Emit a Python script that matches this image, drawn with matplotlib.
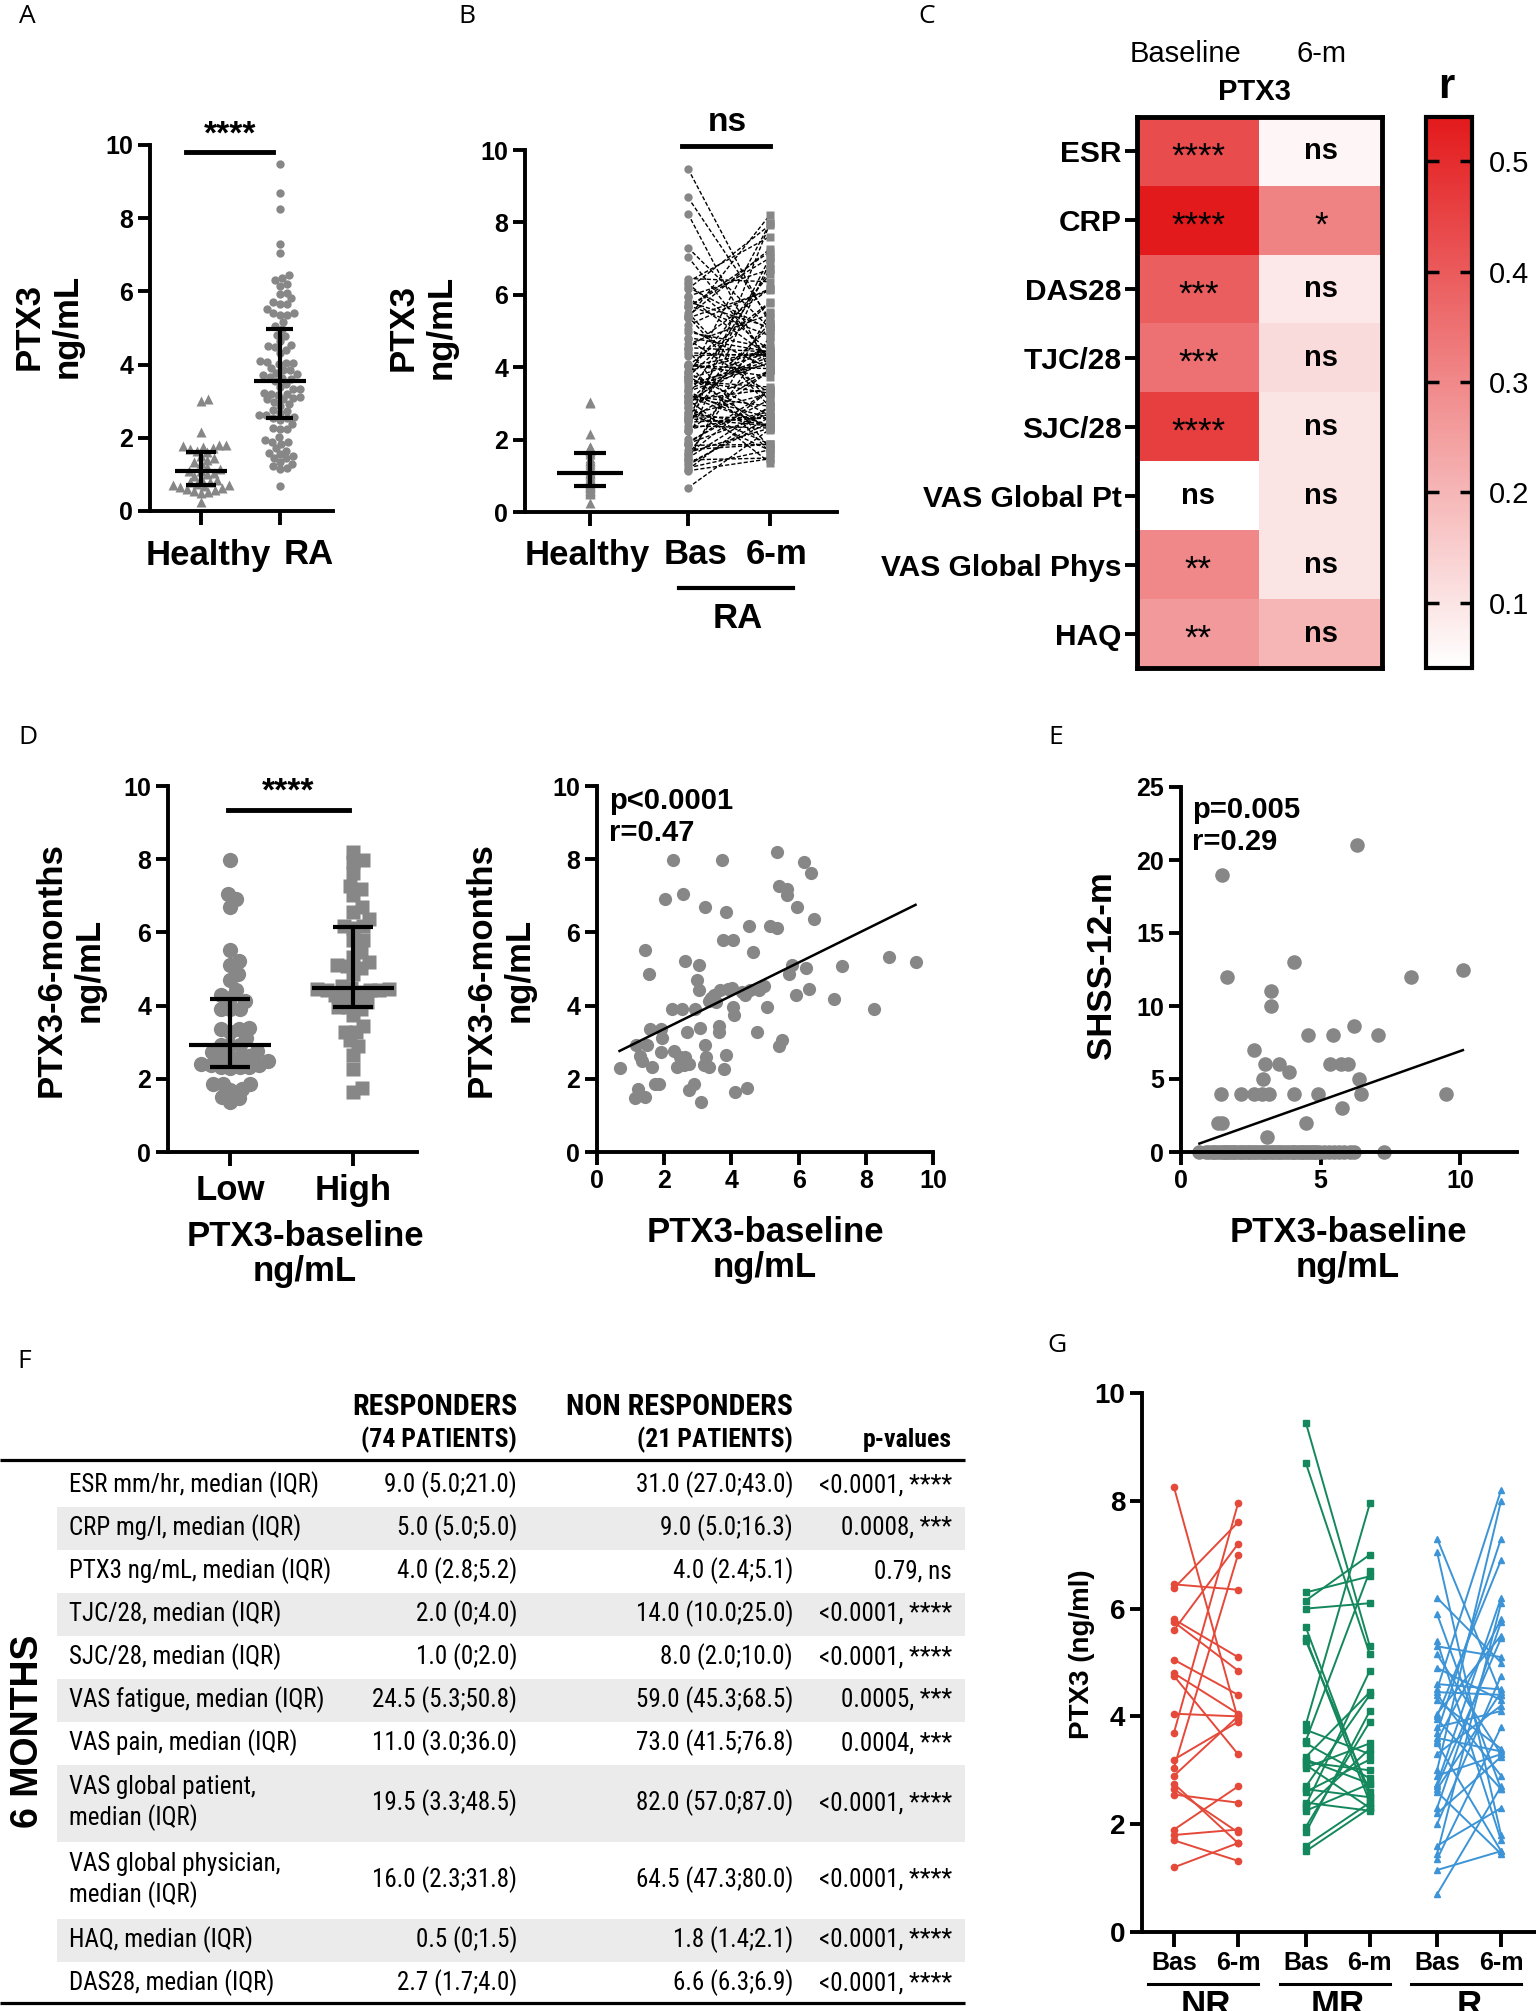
import numpy as np
import matplotlib
matplotlib.use("Agg")
import matplotlib.pyplot as plt
from matplotlib import font_manager
from matplotlib.font_manager import FontProperties
from matplotlib.colors import LinearSegmentedColormap

plt.rcParams["font.family"] = ["Liberation Sans", "DejaVu Sans"]
plt.rcParams["font.weight"] = "bold"
plt.rcParams["axes.labelweight"] = "bold"

# ---------------- data ----------------
# healthy controls (A, B)
healthy = [3.05, 3.0, 2.15, 1.8, 1.8, 1.78, 1.75, 1.72, 1.7, 1.65, 1.6, 1.5,
           1.45, 1.4, 1.35, 1.3, 1.2, 1.15, 1.1, 1.08, 1.05, 1.0, 0.95, 0.9,
           0.85, 0.8, 0.78, 0.75, 0.72, 0.7, 0.68, 0.65, 0.62, 0.6, 0.58,
           0.55, 0.52, 0.5, 0.25]

# RA patients, PTX3 at baseline and 6 months, paired (A, B, D)
ptx3_bas = [0.67, 1.14, 1.22, 1.44, 1.17, 1.29, 1.49, 1.44, 1.56, 1.59,
            1.64, 1.72, 1.84, 1.89, 1.94, 1.89, 2.02, 2.25, 2.23, 2.28,
            2.38, 2.53, 2.55, 2.63, 2.63, 2.68, 2.73, 2.75, 2.88, 2.91,
            2.98, 3.05, 3.05, 3.08, 3.11, 3.18, 3.21, 3.21, 3.23, 3.33,
            3.33, 3.48, 3.55, 3.62, 3.67, 3.64, 3.72, 3.74, 3.77, 3.85,
            3.85, 4.02, 4.04, 4.04, 4.07, 4.10, 4.32, 4.47, 4.52, 4.54,
            4.64, 4.77, 4.82, 4.97, 5.06, 5.16, 5.36, 5.36, 5.41, 5.51,
            5.41, 5.66, 5.66, 5.71, 5.81, 5.93, 5.96, 6.16, 6.21, 6.31,
            6.36, 6.45, 7.05, 7.30, 8.24, 8.69, 9.48, 1.34, 2.48, 2.58,
            3.40, 3.90, 4.40]
ptx3_6m = [2.29, 1.47, 1.72, 1.49, 2.92, 2.63, 2.92, 5.53, 4.85, 3.37,
           2.32, 1.87, 1.87, 3.37, 3.11, 2.72, 6.91, 7.98, 3.91, 2.77,
           2.32, 3.91, 7.04, 5.23, 2.60, 3.28, 2.40, 1.70, 1.87, 3.91,
           4.70, 5.10, 4.42, 3.40, 1.36, 2.38, 6.70, 2.92, 2.60, 2.32,
           4.13, 4.28, 4.10, 3.45, 4.42, 3.28, 7.98, 5.78, 2.26, 2.66,
           6.57, 4.47, 5.80, 3.96, 3.74, 1.64, 4.36, 1.76, 6.17, 4.42,
           5.46, 3.28, 4.42, 4.53, 3.96, 6.17, 6.12, 8.21, 2.89, 3.06,
           7.27, 7.19, 7.02, 4.87, 5.10, 4.28, 6.70, 7.93, 5.04, 4.44,
           7.61, 6.36, 4.17, 5.07, 3.91, 5.32, 5.19, 2.49, 2.60, 2.38,
           4.20, 4.45, 4.30]

# E: PTX3 baseline vs SHSS at 12 months
shss_x = [1.46, 1.65, 6.31, 4.06, 8.24, 10.1, 3.23, 3.23, 6.19, 4.56,
          5.44, 7.05, 2.60, 3.01, 3.52, 5.35, 5.73, 6.00, 3.88, 2.94,
          6.37, 1.43, 2.15, 2.63, 2.89, 3.17, 4.04, 4.92, 6.45, 9.50,
          5.77, 4.48, 1.31, 1.46, 3.08,
          0.66, 1.13, 1.30, 1.55, 1.75, 1.91, 2.10, 2.27, 2.45, 2.63,
          2.80, 2.99, 3.15, 3.35, 3.50, 3.70, 3.90, 4.06, 4.25, 4.42,
          4.60, 4.78, 4.95, 5.14, 5.30, 5.50, 5.65, 5.85, 6.05, 6.21, 7.29,
          0.90, 1.00, 1.20, 1.40, 1.50, 1.60, 1.70, 1.85, 2.00, 2.20,
          2.35, 2.50, 2.70, 2.90, 3.05, 3.25, 3.45, 3.60, 3.80, 4.00,
          4.15, 4.35, 4.50, 4.70, 4.85]
shss_y = [19, 12, 21, 13, 12, 12.5, 11, 10, 8.6, 8,
          8, 8, 7, 6, 6, 6, 6, 6, 5.5, 5,
          5, 4, 4, 4, 4, 4, 4, 4, 4, 4,
          3, 2, 2, 2, 1,
          0, 0, 0, 0, 0, 0, 0, 0, 0, 0,
          0, 0, 0, 0, 0, 0, 0, 0, 0, 0,
          0, 0, 0, 0, 0, 0, 0, 0, 0, 0, 0,
          0, 0, 0, 0, 0, 0, 0, 0, 0, 0,
          0, 0, 0, 0, 0, 0, 0, 0, 0, 0,
          0, 0, 0, 0, 0]

# C: correlation heatmap
heat_rows = ["ESR", "CRP", "DAS28", "TJC/28", "SJC/28", "VAS Global Pt",
             "VAS Global Phys", "HAQ"]
r_base = [0.43, 0.54, 0.39, 0.35, 0.46, 0.04, 0.30, 0.26]
r_6m = [0.06, 0.31, 0.09, 0.12, 0.10, 0.10, 0.10, 0.20]
sig_base = ["****", "****", "***", "***", "****", "ns", "**", "**"]
sig_6m = ["ns", "*", "ns", "ns", "ns", "ns", "ns", "ns"]

# F: table
f_rows = ["ESR mm/hr, median (IQR)", "CRP mg/l, median (IQR)",
          "PTX3 ng/mL, median (IQR)", "TJC/28, median (IQR)",
          "SJC/28, median (IQR)", "VAS fatigue, median (IQR)",
          "VAS pain, median (IQR)", "VAS global patient,\nmedian (IQR)",
          "VAS global physician,\nmedian (IQR)", "HAQ, median (IQR)",
          "DAS28, median (IQR)"]
f_resp = ["9.0 (5.0;21.0)", "5.0 (5.0;5.0)", "4.0 (2.8;5.2)", "2.0 (0;4.0)",
          "1.0 (0;2.0)", "24.5 (5.3;50.8)", "11.0 (3.0;36.0)",
          "19.5 (3.3;48.5)", "16.0 (2.3;31.8)", "0.5 (0;1.5)", "2.7 (1.7;4.0)"]
f_nonresp = ["31.0 (27.0;43.0)", "9.0 (5.0;16.3)", "4.0 (2.4;5.1)",
             "14.0 (10.0;25.0)", "8.0 (2.0;10.0)", "59.0 (45.3;68.5)",
             "73.0 (41.5;76.8)", "82.0 (57.0;87.0)", "64.5 (47.3;80.0)",
             "1.8 (1.4;2.1)", "6.6 (6.3;6.9)"]
f_pvals = ["<0.0001, ****", "0.0008, ***", "0.79, ns", "<0.0001, ****",
           "<0.0001, ****", "0.0005, ***", "0.0004, ***", "<0.0001, ****",
           "<0.0001, ****", "<0.0001, ****", "<0.0001, ****"]

# G: paired PTX3 by response group
nr_bas = [8.25, 6.45, 6.38, 5.8, 5.75, 5.6, 5.05, 4.8, 4.75, 4.05, 3.7, 3.2,
          3.05, 2.9, 2.75, 2.65, 2.55, 1.9, 1.8, 1.7, 1.2]
nr_6m = [3.95, 6.35, 7.6, 5.1, 4.85, 7.2, 4.4, 4.05, 3.3, 4.0, 7.95, 3.9,
         7.0, 4.0, 1.65, 1.85, 2.4, 2.7, 1.9, 1.32, 1.65]
mr_bas = [9.45, 8.7, 6.3, 6.15, 6.0, 5.65, 5.45, 5.4, 3.85, 3.75, 3.55, 3.5,
          3.25, 3.2, 3.15, 3.1, 3.05, 2.7, 2.65, 2.6, 2.4, 2.35, 2.3, 2.25,
          1.95, 1.85, 1.6, 1.5]
mr_6m = [5.3, 5.15, 6.6, 7.0, 6.1, 2.5, 2.4, 2.6, 7.95, 3.3, 6.7, 2.85,
         4.45, 2.75, 3.0, 2.3, 3.5, 4.4, 2.5, 3.2, 2.25, 4.85, 3.4, 2.75,
         3.9, 4.1, 2.4, 2.3]
r_bas_g = [7.3, 7.05, 6.2, 5.9, 5.4, 5.3, 5.15, 4.9, 4.6, 4.5, 4.45, 4.4,
           4.3, 4.05, 4.0, 3.95, 3.8, 3.7, 3.6, 3.55, 3.5, 3.3, 3.0, 2.9,
           2.75, 2.7, 2.65, 2.6, 2.3, 2.2, 2.0, 1.6, 1.45, 1.35, 1.15, 0.7]
r_6m_g = [4.4, 1.8, 5.0, 2.65, 1.7, 5.1, 3.3, 4.3, 4.5, 8.2, 4.4, 2.9,
          3.4, 5.5, 6.9, 2.65, 4.1, 7.3, 3.35, 5.8, 1.5, 4.2, 8.0, 3.3,
          6.2, 5.45, 4.45, 1.45, 5.75, 3.25, 4.75, 2.3, 6.1, 3.8, 1.5, 2.7]
g_groups = ["NR", "MR", "R"]

GREY = "#878787"
W, H = 1536, 2011
fig = plt.figure(figsize=(W / 100, H / 100), dpi=100)


def ax_px(l, t, r, b):
    return fig.add_axes([l / W, 1 - b / H, (r - l) / W, (b - t) / H])


def style(ax, size=18):
    for s in ["top", "right"]:
        ax.spines[s].set_visible(False)
    for s in ["left", "bottom"]:
        ax.spines[s].set_linewidth(2.8)
    ax.tick_params(width=2.8, length=9, labelsize=size, pad=3)


def swarm(vals, d, ppu_y):
    # simple beeswarm: x offsets (pixels) so markers of size d do not overlap
    vals = np.asarray(vals, float)
    ys = vals * ppu_y
    xs = np.zeros_like(ys)
    steps = np.arange(0.5, 200, 0.5)
    cand = np.concatenate([[0.0], np.ravel(np.column_stack([steps, -steps]))])
    done = []
    for i in np.argsort(vals):
        if done:
            px = xs[done]
            py = ys[done]
            near = np.abs(py - ys[i]) < d
            px, py = px[near], py[near]
            for c in cand:
                if np.all((c - px) ** 2 + (ys[i] - py) ** 2 >= d * d):
                    xs[i] = c
                    break
        done.append(i)
    return xs


def med_iqr(ax, x, vals, half_med, half_cap):
    q1, med, q3 = np.percentile(vals, [25, 50, 75])
    kw = dict(color="black", lw=3, zorder=5, solid_capstyle="butt")
    ax.plot([x - half_med, x + half_med], [med, med], **kw)
    ax.plot([x, x], [q1, q3], **kw)
    ax.plot([x - half_cap, x + half_cap], [q1, q1], **kw)
    ax.plot([x - half_cap, x + half_cap], [q3, q3], **kw)


def narrow_font(bold):
    # look for a condensed sans face for the table
    want = 700 if bold else 400
    prefs = ["Liberation Sans Narrow", "Roboto Condensed", "Noto Sans",
             "Roboto", "DejaVu Sans", "Open Sans"]
    best = None
    for f in font_manager.fontManager.ttflist:
        low = (f.name + " " + f.fname).lower()
        cond = f.stretch == "condensed" or "narrow" in low or "condensed" in low
        if not cond or f.style != "normal":
            continue
        if any(s in low for s in ["extra", "semi", "ultra", "semicond"]):
            continue
        w = f.weight if isinstance(f.weight, int) else font_manager.weight_dict.get(f.weight, 400)
        if w != want:
            continue
        rank = next((k for k, p in enumerate(prefs) if f.name.startswith(p)), 99)
        if best is None or rank < best[0]:
            best = (rank, f.fname)
    return best[1] if best else None


bas = np.array(ptx3_bas)
m6 = np.array(ptx3_6m)

# ---------------- A ----------------
axA = ax_px(150, 145, 333, 511)
style(axA)
ppx = 78.0
ppy = 366 / 10
offH = swarm(healthy, 7.0, ppy) / ppx
offR = swarm(bas, 7.0, ppy) / ppx
axA.plot(0 + offH, healthy, "^", color=GREY, ms=6.5, mec="none")
axA.plot(1 + offR, bas, "o", color=GREY, ms=6, mec="none")
med_iqr(axA, 0, healthy, 0.33, 0.19)
med_iqr(axA, 1, bas, 0.33, 0.17)
axA.set_xlim(-0.654, 1.68)
axA.set_ylim(0, 10)
axA.set_yticks(range(0, 11, 2))
axA.set_xticks([0, 1])
axA.set_xticklabels(["", ""])
axA.tick_params(axis="x", length=10, pad=8)
axA.plot([-0.19, 0.92], [9.8, 9.8], color="black", lw=3.5, clip_on=False)
axA.text(0.365, 9.86, "****", ha="center", va="bottom", fontsize=24)

# ---------------- B ----------------
axB = ax_px(525, 150, 837, 512)
style(axB)
xb = [0.0, 1.195, 2.195]
axB.plot(np.vstack([np.full(len(bas), xb[1]), np.full(len(bas), xb[2])]),
         np.vstack([bas, m6]), color="black", lw=1.0, ls=(0, (3, 1.5)))
axB.plot(np.full(len(healthy), xb[0]), healthy, "^", color=GREY, ms=6.5, mec="none")
axB.plot(np.full(len(bas), xb[1]), bas, "o", color=GREY, ms=6, mec="none", zorder=3)
axB.plot(np.full(len(m6), xb[2]), m6, "s", color=GREY, ms=6, mec="none", zorder=3)
med_iqr(axB, xb[0], healthy, 0.4, 0.2)
axB.set_xlim(-0.793, 3.012)
axB.set_ylim(0, 10)
axB.set_yticks(range(0, 11, 2))
axB.set_xticks(xb)
axB.set_xticklabels(["", "", ""])
axB.tick_params(axis="x", length=10, pad=8)
axB.plot([1.12, 2.195], [10.1, 10.1], color="black", lw=3.5, clip_on=False)
axB.text(1.67, 10.75, "ns", ha="center", va="center", fontsize=24)

# ---------------- C ----------------
axC = ax_px(1137, 117, 1382, 668)
cmap = LinearSegmentedColormap.from_list("wr", ["#FFFFFF", "#E31A1C"])
mat = np.column_stack([r_base, r_6m])
im = axC.imshow(mat, cmap=cmap, vmin=0.041, vmax=0.54, aspect="auto")
axC.set_xticks([])
axC.set_yticks(range(len(heat_rows)))
axC.set_yticklabels(heat_rows, fontsize=21.5)
axC.tick_params(axis="y", width=2.8, length=9, pad=2)
for s in axC.spines.values():
    s.set_linewidth(3.5)
for i in range(len(heat_rows)):
    for j, lab in enumerate([sig_base[i], sig_6m[i]]):
        if lab == "ns":
            axC.text(j, i, lab, ha="center", va="center", fontsize=21)
        else:
            axC.text(j, i + 0.08, lab, ha="center", va="center",
                     fontsize=25, fontweight="normal")
cax = ax_px(1426, 117, 1472, 668)
cb = fig.colorbar(im, cax=cax)
cb.set_ticks([0.1, 0.2, 0.3, 0.4, 0.5])
cb.outline.set_linewidth(3)
cax.tick_params(direction="in", length=9, width=2.5, left=True, right=True,
                labelsize=21, pad=12)
for t in cax.get_yticklabels():
    t.set_fontweight("normal")

# ---------------- D left ----------------
axD = ax_px(168, 786, 417, 1152)
style(axD)
thr = np.median(bas)
low = m6[bas < thr]
high = m6[bas >= thr]
offL = swarm(low, 9.5, ppy) / 123
offHi = swarm(high, 9.5, ppy) / 123
axD.plot(0 + offL, low, "o", color=GREY, ms=11, mec="none")
axD.plot(1 + offHi, high, "s", color=GREY, ms=10, mec="none")
med_iqr(axD, 0, low, 0.33, 0.16)
med_iqr(axD, 1, high, 0.33, 0.16)
axD.set_xlim(-0.504, 1.52)
axD.set_ylim(0, 10)
axD.set_yticks(range(0, 11, 2))
axD.set_xticks([0, 1])
axD.set_xticklabels(["Low", "High"], fontsize=25)
axD.tick_params(axis="x", length=10, pad=6)
axD.plot([-0.016, 0.967], [9.34, 9.34], color="black", lw=3.5, clip_on=False)
axD.text(0.475, 9.42, "****", ha="center", va="bottom", fontsize=24)

# ---------------- D right ----------------
axS = ax_px(597, 786, 933, 1152)
style(axS)
axS.plot(bas, m6, "o", color=GREY, ms=9.5, mec="none")
k, b0 = np.polyfit(bas, m6, 1)
xx = np.array([bas.min(), bas.max()])
axS.plot(xx, k * xx + b0, color="black", lw=1.8)
axS.set_xlim(0, 10)
axS.set_ylim(0, 10)
axS.set_xticks(range(0, 11, 2))
axS.set_yticks(range(0, 11, 2))

# ---------------- E ----------------
axE = ax_px(1181, 787, 1517, 1152)
style(axE)
sx = np.array(shss_x)
sy = np.array(shss_y)
axE.plot(sx, sy, "o", color=GREY, ms=10.5, mec="none", clip_on=False)
k2, b2 = np.polyfit(sx, sy, 1)
xx2 = np.array([sx.min(), sx.max()])
axE.plot(xx2, k2 * xx2 + b2, color="black", lw=1.8)
axE.set_xlim(0, 12.04)
axE.set_ylim(0, 25)
axE.set_xticks([0, 5, 10])
axE.set_yticks(range(0, 26, 5))

# ---------------- G ----------------
axG = ax_px(1142, 1393, 1536, 1932)
style(axG, size=20)
gpos = [0, 1, 2.06, 3.06, 4.11, 5.11]
gdata = [(nr_bas, nr_6m, "#E5493A", "o"), (mr_bas, mr_6m, "#14885C", "s"),
         (r_bas_g, r_6m_g, "#3C94D6", "^")]
for gi, (gb, gm, col, mk) in enumerate(gdata):
    n = len(gb)
    axG.plot(np.vstack([np.full(n, gpos[2 * gi]), np.full(n, gpos[2 * gi + 1])]),
             np.vstack([gb, gm]), color=col, lw=1.4, marker=mk, ms=4.5, mec=col)
axG.set_xlim(-0.5, 5.656)
axG.set_ylim(0, 10)
axG.set_yticks(range(0, 11, 2))
axG.set_xticks(gpos)
axG.set_xticklabels(["Bas", "6-m"] * 3, fontsize=18)
axG.tick_params(axis="x", length=11, pad=3)

# ---------------- overlay: labels, table ----------------
ov = fig.add_axes([0, 0, 1, 1])
ov.set_xlim(0, W)
ov.set_ylim(H, 0)
ov.axis("off")
ov.patch.set_alpha(0)

for lab, (x, y) in zip("ABCDEFG", [(27, 16), (467, 16), (927, 16), (28, 737),
                                    (1056, 737), (24, 1362), (1057, 1345)]):
    ov.text(x, y, lab, fontsize=19, fontweight="normal", family="Open Sans",
            ha="center", va="center")

lab_kw = dict(fontsize=25, ha="center", va="center", multialignment="center")
# category labels of A and B (placed like the original, RA shifted right)
for txt, x in [("Healthy", 208), ("RA", 309), ("Healthy", 587), ("Bas", 695),
               ("6-m", 777)]:
    ov.text(x, 555, txt, **lab_kw)
ov.text(48, 326, "PTX3\nng/mL", rotation=90, linespacing=1.2, **lab_kw)
ov.text(422, 327, "PTX3\nng/mL", rotation=90, linespacing=1.2, **lab_kw)
ov.plot([679, 793], [588, 588], color="black", lw=3)
ov.text(738, 618, "RA", **lab_kw)

ov.text(1185, 54, "Baseline", fontsize=21, fontweight="normal", ha="center", va="center")
ov.text(1322, 54, "6-m", fontsize=21, fontweight="normal", ha="center", va="center")
ov.text(1254, 92, "PTX3", fontsize=21, ha="center", va="center")
ov.text(1446, 87, "r", fontsize=30, ha="center", va="center")

ov.text(70, 970, "PTX3-6-months\nng/mL", rotation=90, linespacing=1.2, **lab_kw)
ov.text(305, 1254, "PTX3-baseline\nng/mL", linespacing=1.1, **lab_kw)
ov.text(500, 970, "PTX3-6-months\nng/mL", rotation=90, linespacing=1.2, **lab_kw)
ov.text(765, 1250, "PTX3-baseline\nng/mL", linespacing=1.1, **lab_kw)
ov.text(609, 817, "p<0.0001\nr=0.47", fontsize=21, ha="left", va="center",
        linespacing=1.15)
ov.text(1101, 965, "SHSS-12-m", rotation=90, **lab_kw)
ov.text(1348, 1250, "PTX3-baseline\nng/mL", linespacing=1.1, **lab_kw)
ov.text(1192, 826, "p=0.005\nr=0.29", fontsize=21, ha="left", va="center",
        linespacing=1.15)

ov.text(1082, 1654, "PTX3 (ng/ml)", rotation=90, fontsize=20, ha="center", va="center")
for gi, g in enumerate(g_groups):
    x0 = 1174 + 64 * gpos[2 * gi]
    x1 = 1174 + 64 * gpos[2 * gi + 1]
    ov.plot([x0 - 26, x1 + 20], [1983.5, 1983.5], color="black", lw=2.2)
    ov.text((x0 + x1) / 2, 1989, g, fontsize=25, ha="center", va="top")

# table
reg_file = narrow_font(False)
bold_file = narrow_font(True)
if reg_file:
    fp_reg = FontProperties(fname=reg_file, size=18)
else:
    fp_reg = FontProperties(family="Liberation Sans", weight="normal", size=15.5)
if bold_file:
    fp_head = FontProperties(fname=bold_file, size=21.5)
    fp_sub = FontProperties(fname=bold_file, size=18.5)
else:
    fp_head = FontProperties(family="Liberation Sans", weight="bold", size=18)
    fp_sub = FontProperties(family="Liberation Sans", weight="bold", size=15.5)

ov.text(517, 1407, "RESPONDERS", fontproperties=fp_head, ha="right", va="center")
ov.text(517, 1440, "(74 PATIENTS)", fontproperties=fp_sub, ha="right", va="center")
ov.text(793, 1407, "NON RESPONDERS", fontproperties=fp_head, ha="right", va="center")
ov.text(793, 1440, "(21 PATIENTS)", fontproperties=fp_sub, ha="right", va="center")
ov.text(952, 1440, "p-values", fontproperties=fp_sub, ha="right", va="center")
ov.plot([0, 965], [1460, 1460], color="black", lw=2.3, solid_capstyle="butt")
y = 1463.5
for i, lab in enumerate(f_rows):
    h = 77 if "\n" in lab else 43
    if i % 2 == 1:
        ov.fill_between([57, 965], y, y + h, color="#EBEBEB", lw=0)
    yc = y + h / 2
    ov.text(69, yc, lab, ha="left", va="center", linespacing=1.25, fontproperties=fp_reg)
    ov.text(517, yc, f_resp[i], ha="right", va="center", fontproperties=fp_reg)
    ov.text(793, yc, f_nonresp[i], ha="right", va="center", fontproperties=fp_reg)
    ov.text(952, yc, f_pvals[i], ha="right", va="center", fontproperties=fp_reg)
    y += h
ov.plot([0, 965], [2003, 2003], color="black", lw=2.3, solid_capstyle="butt")
ov.text(28, 1731, "6 MONTHS", rotation=90, fontsize=27, ha="center", va="center")

fig.savefig("out.png", dpi=100)
